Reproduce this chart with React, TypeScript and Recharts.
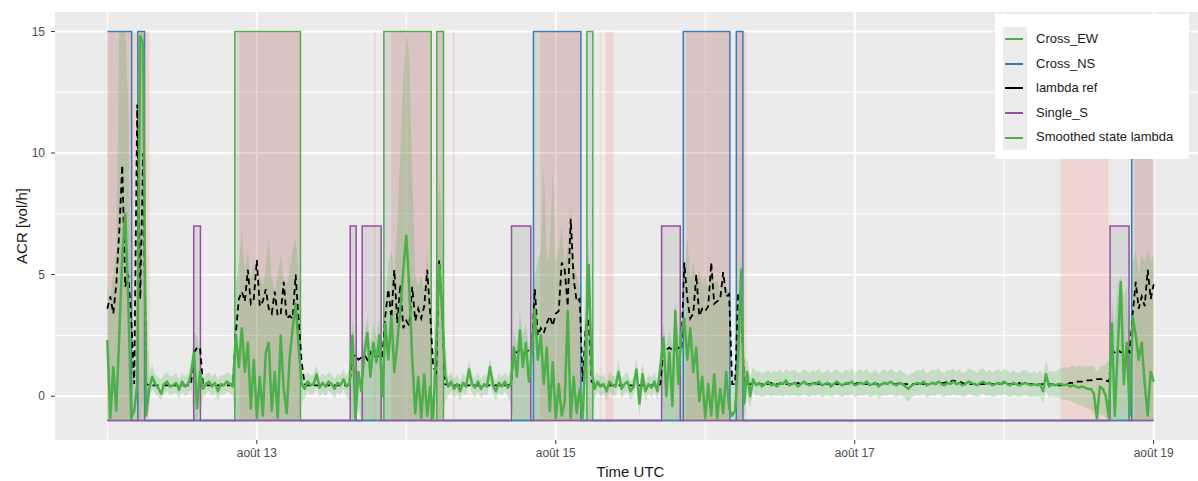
import React from 'react';
import { ComposedChart, Line, Area, XAxis, YAxis, CartesianGrid, Legend, Label } from 'recharts';

const FONT = '"Liberation Sans", Arial, Helvetica, sans-serif';

// time grid: day-of-month (août), sampled every 0.02 day from août 12 00:00
const T_START = 12;
const T_STEP = 0.02;

const smoothed = [
  2.3, -0.9, 1.2, -0.6, 2.5, 5.8, 7.5, 4.0, -0.9, -0.6,
  0.5, 14.8, 14.5, -0.8, 0.3, 0.8, 0.5, 0.35, 0.1, 0.5,
  0.6, 0.4, 0.45, 0.55, 0.25, 0.6, 0.4, 0.5, 0.9, 1.8,
  -0.5, 1.0, 0.3, 0.5, 0.6, 0.4, 0.55, 0.2, 0.5, 0.45,
  0.6, 0.5, 0.4, 2.5, 1.2, 2.8, 1.0, 2.2, -0.5, 1.5,
  -0.9, 0.8, -0.8, 1.8, 2.2, -0.6, 1.0, -0.9, 2.5, 0.3,
  -0.7, 1.6, 2.8, 3.8, 2.0, 0.5, 0.3, 0.6, 0.45, 0.5,
  0.9, 0.35, 0.55, 0.4, 0.6, 0.5, 0.3, 0.55, 0.45, 0.7,
  0.4, 0.5, 2.5, -0.9, 1.0, 0.2, 1.8, 2.6, 0.8, 2.2,
  1.4, 2.5, 0.0, 3.0, 1.5, 3.3, 1.0, 2.2, 3.6, 5.2,
  6.6, 4.5, 1.5, -0.7, 0.8, -0.9, 0.9, -0.8, 0.4, -0.9,
  2.0, 5.4, 3.5, 0.9, 0.4, 0.6, 0.3, 0.5, 0.2, 0.55,
  0.4, 1.1, 0.5, 0.35, 0.6, 0.3, 0.5, 0.4, 1.2, 0.45,
  0.2, 0.55, 0.4, 0.6, 0.35, 0.5, 2.0, 0.8, 2.7, 1.2,
  2.2, 0.6, 1.8, 3.6, 1.5, 2.5, 0.5, 2.0, -0.6, 1.4,
  -0.9, 0.5, -0.8, -0.2, 3.5, -0.9, 0.8, -0.7, 0.3, -0.9,
  2.0, 5.4, 1.0, 0.3, 0.6, 0.4, 0.5, 0.2, 0.6, 0.45,
  0.4, 1.0, 0.3, 0.5, 0.6, 0.2, 0.4, 1.1, -0.3, 0.9,
  0.2, 0.5, 0.35, 0.6, 0.2, 1.2, 2.4, 0.0, 1.8, -0.4,
  3.5, 0.5, 2.6, 3.2, 1.5, 2.8, 1.0, 2.0, -0.2, 0.8,
  -0.9, 0.5, -0.8, 0.9, -0.9, 0.3, -0.7, 1.0, -0.5, -0.8,
  -0.6, 1.5, 5.2, -0.3, 1.0, 0.0, 0.7, 0.45, 0.55, 0.4,
  0.5, 0.6, 0.45, 0.5, 0.4, 0.55, 0.5, 0.65, 0.45, 0.5,
  0.55, 0.4, 0.5, 0.6, 0.5, 0.45, 0.55, 0.5, 0.6, 0.45,
  0.5, 0.55, 0.4, 0.5, 0.6, 0.5, 0.45, 0.55, 0.5, 0.6,
  0.45, 0.5, 0.55, 0.5, 0.6, 0.45, 0.5, 0.55, 0.4, 0.5,
  0.55, 0.5, 0.6, 0.5, 0.45, 0.55, 0.5, 0.4, 0.3, 0.45,
  0.5, 0.55, 0.5, 0.6, 0.45, 0.5, 0.55, 0.5, 0.6, 0.5,
  0.45, 0.55, 0.5, 0.6, 0.5, 0.55, 0.45, 0.5, 0.6, 0.55,
  0.5, 0.45, 0.55, 0.6, 0.5, 0.55, 0.45, 0.5, 0.55, 0.5,
  0.6, 0.5, 0.45, 0.55, 0.5, 0.45, 0.5, 0.55, 0.5, 0.45,
  0.5, 0.45, 0.5, 0.2, 0.9, 0.4, 0.5, 0.45, 0.5, 0.5,
  0.45, 0.5, 0.4, 0.45, 0.4, 0.35, 0.4, 0.35, 0.3, 0.3,
  0.1, -0.9, 0.4, 0.3, 0.0, -0.9, 3.0, -0.8, 2.0, 4.7,
  0.5, 2.2, -0.8, 3.3, 2.5, 1.5, 2.2, 0.5, -0.8, 1.0,
  0.6,
];

const lambdaRef = [
  3.6, 4.1, 3.4, 4.6, 6.8, 9.5, 4.5, 5.0, 3.2, 0.5,
  12.0, 4.0, 10.0, 0.5, 0.45, 0.45, 0.45, 0.45, 0.45, 0.45,
  0.45, 0.45, 0.45, 0.45, 0.45, 0.45, 0.45, 0.45, 0.5, 1.8,
  2.0, 2.0, 0.5, 0.45, 0.45, 0.45, 0.45, 0.45, 0.45, 0.45,
  0.45, 0.45, 0.5, 2.6, 4.0, 4.3, 3.9, 5.2, 3.8, 4.0,
  5.6, 3.7, 3.9, 4.4, 3.6, 3.4, 4.3, 3.3, 3.4, 4.7,
  3.2, 3.3, 3.2, 5.0, 3.1, 1.4, 0.5, 0.45, 0.45, 0.45,
  0.45, 0.45, 0.45, 0.45, 0.45, 0.45, 0.45, 0.45, 0.45, 0.45,
  0.45, 0.5, 1.6, 1.7, 1.5, 1.6, 1.7, 1.5, 1.8, 1.6,
  1.7, 1.6, 1.6, 3.3, 4.4, 3.2, 5.2, 3.0, 4.6, 2.8,
  3.1, 2.9, 4.5, 3.1, 3.6, 3.2, 3.7, 5.2, 3.4, 1.2,
  1.0, 5.6, 3.5, 0.5, 0.45, 0.45, 0.45, 0.45, 0.45, 0.45,
  0.45, 0.45, 0.45, 0.45, 0.45, 0.45, 0.45, 0.45, 0.45, 0.45,
  0.45, 0.45, 0.45, 0.45, 0.45, 0.5, 1.8, 1.8, 1.9, 1.8,
  1.8, 1.9, 1.9, 4.4, 2.5, 2.8, 2.6, 3.0, 3.3, 2.9,
  3.4, 3.5, 5.5, 5.2, 3.7, 7.3, 4.8, 3.9, 4.0, 0.6,
  2.8, 3.2, 0.6, 0.5, 0.45, 0.45, 0.45, 0.45, 0.45, 0.45,
  0.45, 0.45, 0.45, 0.45, 0.45, 0.45, 0.45, 0.45, 0.45, 0.45,
  0.45, 0.45, 0.45, 0.45, 0.45, 0.5, 1.9, 1.9, 2.0, 1.9,
  1.9, 2.0, 1.9, 5.5, 4.0, 3.2, 3.4, 5.0, 3.3, 3.6,
  3.5, 3.7, 5.5, 3.8, 3.9, 4.0, 5.1, 4.1, 4.2, 0.5,
  0.5, 4.2, 4.0, 0.5, 0.5, 0.5, 0.5, 0.5, 0.5, 0.5,
  0.5, 0.5, 0.55, 0.5, 0.5, 0.5, 0.55, 0.5, 0.5, 0.5,
  0.5, 0.55, 0.5, 0.5, 0.5, 0.5, 0.5, 0.55, 0.5, 0.5,
  0.5, 0.5, 0.5, 0.55, 0.5, 0.5, 0.5, 0.5, 0.55, 0.5,
  0.5, 0.55, 0.5, 0.5, 0.5, 0.5, 0.55, 0.5, 0.5, 0.5,
  0.55, 0.5, 0.5, 0.5, 0.5, 0.55, 0.5, 0.5, 0.5, 0.5,
  0.5, 0.5, 0.55, 0.5, 0.5, 0.5, 0.55, 0.5, 0.5, 0.55,
  0.55, 0.6, 0.6, 0.65, 0.6, 0.6, 0.55, 0.5, 0.5, 0.5,
  0.5, 0.55, 0.5, 0.5, 0.5, 0.55, 0.5, 0.5, 0.5, 0.5,
  0.55, 0.5, 0.5, 0.5, 0.5, 0.55, 0.5, 0.5, 0.5, 0.5,
  0.5, 0.5, 0.5, 0.5, 0.5, 0.5, 0.5, 0.5, 0.45, 0.45,
  0.5, 0.5, 0.55, 0.55, 0.6, 0.6, 0.6, 0.65, 0.65, 0.65,
  0.7, 0.7, 0.7, 0.7, 0.65, 0.6, 1.8, 1.8, 1.9, 1.8,
  1.8, 1.9, 1.8, 3.4, 4.7, 3.6, 4.1, 3.7, 5.2, 4.0,
  4.6,
];

const ciLow = [
  -1, -1, -1, -1, -1, -1, -1, -1, -1, -1,
  -1, -1, 0, -1, -0.1, 0.3, 0.1, 0.0, -0.2, 0.1,
  0.2, 0.0, 0.1, 0.15, -0.1, 0.2, 0.0, 0.1, 0.3, -1,
  -1, -0.6, -0.1, 0.1, 0.2, 0.0, 0.15, -0.2, 0.1, 0.05,
  0.2, 0.1, 0.0, -1, -1, -1, -1, -1, -1, -1,
  -1, -1, -1, -1, -1, -1, -1, -1, -1, -1,
  -1, -1, -1, -1, -1, -0.2, -0.1, 0.2, 0.05, 0.1,
  0.4, -0.05, 0.15, 0.0, 0.2, 0.1, -0.1, 0.15, 0.05, 0.3,
  0.0, -0.2, -1, -1, -0.5, -1, -1, -1, -1, -1,
  -1, -1, -1, -1, -1, -1, -1, -1, -1, -1,
  -1, -1, -1, -1, -1, -1, -1, -1, -1, -1,
  -1, -1, -1, -0.2, 0.0, 0.2, -0.1, 0.1, -0.2, 0.15,
  0.0, 0.5, 0.1, -0.05, 0.2, -0.1, 0.1, 0.0, 0.6, 0.05,
  -0.2, 0.15, 0.0, 0.2, -0.05, -0.3, -1, -1, -1, -1,
  -1, -1, -1, -1, -1, -1, -1, -1, -1, -1,
  -1, -1, -1, -1, -1, -1, -1, -1, -1, -1,
  -1, -1, -1, -0.1, 0.2, 0.0, 0.1, -0.2, 0.2, 0.05,
  0.0, 0.4, -0.1, 0.1, 0.2, -0.2, 0.0, 0.5, -0.8, 0.3,
  -0.2, 0.1, -0.05, 0.2, -0.2, 0.4, -1, -1, -1, -1,
  -1, -1, -1, -1, -1, -1, -1, -1, -1, -1,
  -1, -1, -1, -1, -1, -1, -1, -1, -1, -1,
  -1, -1, -1, -0.8, 0.0, -0.5, 0.2, 0.0, 0.05, -0.05,
  0.0, 0.1, -0.05, 0.05, 0.0, 0.05, -0.05, 0.1, 0.0, 0.05,
  0.05, -0.05, 0.0, 0.1, 0.0, -0.05, 0.05, 0.0, 0.1, -0.05,
  0.0, 0.05, -0.05, 0.0, 0.1, 0.0, -0.05, 0.05, 0.0, 0.1,
  -0.05, 0.0, 0.05, 0.0, 0.1, -0.05, 0.0, 0.05, -0.1, 0.0,
  0.05, 0.0, 0.1, 0.0, -0.05, 0.05, 0.0, -0.1, -0.25, -0.05,
  0.0, 0.05, 0.0, 0.1, -0.05, 0.0, 0.05, 0.0, 0.1, 0.0,
  -0.05, 0.05, 0.0, 0.1, 0.0, 0.05, -0.05, 0.0, 0.1, 0.05,
  0.0, -0.05, 0.05, 0.1, 0.0, 0.05, -0.05, 0.0, 0.05, 0.0,
  0.1, 0.0, -0.05, 0.05, 0.0, -0.05, 0.0, 0.05, 0.0, -0.05,
  0.0, -0.05, 0.0, -0.3, 0.2, -0.1, 0.0, -0.05, -0.05, -0.1,
  -0.15, -0.15, -0.2, -0.25, -0.3, -0.35, -0.4, -0.45, -0.5, -0.55,
  -0.7, -1, -0.75, -0.8, -0.9, -1, -1, -1, -1, -1,
  -1, -1, -1, -1, -1, -1, -1, -1, -1, -1,
  -1,
];

const ciHigh = [
  4.5, 4.0, 5.0, 6.0, 15, 15, 15, 12, 2.0, 0.6,
  6, 15, 15, 4, 1.0, 1.3, 0.9, 0.8, 0.7, 0.9,
  1.0, 0.8, 0.85, 0.95, 0.7, 1.0, 0.8, 0.9, 1.4, 2.6,
  2.5, 1.8, 0.8, 0.9, 1.0, 0.8, 0.95, 0.7, 0.9, 0.85,
  1.0, 0.9, 0.8, 4.5, 5.5, 6.8, 5.0, 6.0, 4.8, 5.5,
  4.6, 5.0, 4.5, 5.2, 6.5, 4.8, 4.3, 5.0, 5.8, 4.8,
  4.6, 5.2, 6.0, 6.5, 5.0, 1.2, 0.7, 1.0, 0.85, 0.9,
  1.3, 0.75, 0.95, 0.8, 1.0, 0.9, 0.7, 0.95, 0.85, 1.1,
  0.8, 1.2, 3.2, 2.0, 1.6, 1.5, 2.5, 3.3, 2.0, 3.0,
  2.4, 3.2, 2.0, 4.0, 5.5, 6.0, 5.0, 7.0, 10, 13,
  15, 14, 9, 5.0, 4.5, 5.0, 4.2, 6.0, 4.0, 1.0,
  6, 9, 7, 2.0, 0.8, 1.0, 0.7, 0.9, 0.6, 0.95,
  0.8, 1.5, 0.9, 0.75, 1.0, 0.7, 0.9, 0.8, 1.6, 0.85,
  0.6, 0.95, 0.8, 1.0, 0.75, 1.2, 2.8, 2.0, 3.5, 2.5,
  3.0, 2.0, 2.6, 5.0, 5.5, 6.0, 9.5, 5.5, 6.0, 9.4,
  5.5, 6.0, 7.0, 5.5, 6.0, 8.0, 5.5, 5.0, 4.5, 1.0,
  5.0, 6.5, 3.0, 0.8, 1.0, 0.8, 0.9, 0.6, 1.0, 0.85,
  0.8, 1.5, 0.7, 0.9, 1.0, 0.6, 0.8, 1.6, 0.3, 1.4,
  0.6, 0.9, 0.75, 1.0, 0.6, 1.8, 3.0, 2.0, 2.8, 2.0,
  4.0, 2.5, 3.2, 5.0, 6.5, 4.8, 5.5, 4.5, 5.2, 4.6,
  5.0, 4.2, 5.5, 4.6, 4.8, 4.3, 5.2, 4.5, 4.2, 1.0,
  1.0, 4.0, 6.0, 1.2, 1.6, 0.8, 1.2, 1.0, 1.05, 0.95,
  1.0, 1.1, 0.95, 1.05, 1.0, 1.1, 0.95, 1.15, 1.0, 1.05,
  1.1, 0.95, 1.0, 1.1, 1.05, 0.95, 1.1, 1.0, 1.15, 0.95,
  1.0, 1.1, 0.95, 1.05, 1.1, 1.0, 0.95, 1.1, 1.0, 1.15,
  0.95, 1.05, 1.1, 1.0, 1.15, 0.95, 1.0, 1.1, 0.9, 1.05,
  1.1, 1.0, 1.15, 1.05, 0.95, 1.1, 1.0, 0.9, 0.85, 0.95,
  1.0, 1.1, 1.05, 1.15, 0.95, 1.0, 1.1, 1.05, 1.15, 1.0,
  0.95, 1.1, 1.05, 1.15, 1.0, 1.1, 0.95, 1.0, 1.15, 1.1,
  1.05, 0.95, 1.1, 1.15, 1.0, 1.1, 0.95, 1.05, 1.1, 1.0,
  1.15, 1.05, 0.95, 1.1, 1.0, 0.95, 1.05, 1.1, 1.0, 0.95,
  1.05, 0.95, 1.05, 0.9, 1.5, 1.0, 1.05, 1.0, 1.1, 1.15,
  1.2, 1.15, 1.2, 1.25, 1.2, 1.25, 1.2, 1.25, 1.2, 1.25,
  1.2, 1.0, 1.2, 1.25, 1.3, 1.5, 4.0, 3.0, 4.5, 5.0,
  4.0, 4.5, 2.0, 5.5, 6.0, 5.0, 5.8, 5.5, 6.0, 5.5,
  5.8,
];

// state periods [start, end] in days (août)
const crossEW = [[12.853, 13.292], [13.85, 14.167], [14.204, 14.249], [15.208, 15.248]];
const crossNS = [[12.0, 12.163], [12.204, 12.249], [14.851, 15.168], [15.853, 16.165], [16.208, 16.252], [18.853, 19.0]];
const singleS = [[12.578, 12.623], [13.625, 13.665], [13.705, 13.832], [14.704, 14.833], [15.708, 15.833], [18.708, 18.835]];
const pinkBands = [
  [12.0, 12.282], [12.884, 13.29], [13.785, 13.795], [13.899, 14.165], [14.204, 14.249],
  [14.31, 14.322], [14.896, 15.166], [15.295, 15.305], [15.333, 15.387], [15.873, 16.165],
  [16.208, 16.275], [18.378, 18.699], [18.873, 19.0],
];
const STATE_OFF = -1;
const EW_ON = 15;
const NS_ON = 15;
const S_ON = 7;

const xTicks = [13, 15, 17, 19];
const xTickLabels = ['août 13', 'août 15', 'août 17', 'août 19'];
const xMinor = [12, 14, 16, 18];
const yTicks = [0, 5, 10, 15];
const yMinor = [2.5, 7.5, 12.5];

const legendNames = ['Cross_EW', 'Cross_NS', 'lambda ref', 'Single_S', 'Smoothed state lambda'];
const legendColors = ['#4daf4a', '#377eb8', '#000000', '#984ea3', '#4daf4a'];

const T_END = T_START + (smoothed.length - 1) * T_STEP;

const series = smoothed.map((v, i) => ({
  t: T_START + i * T_STEP,
  smooth: v,
  ref: lambdaRef[i],
  ci: [ciLow[i], ciHigh[i]],
}));

function stepLine(intervals: number[][], on: number) {
  const pts: { t: number; v: number }[] = [];
  if (intervals[0][0] > T_START + 1e-9) pts.push({ t: T_START, v: STATE_OFF });
  intervals.forEach(([s, e]) => {
    if (s > T_START + 1e-9) pts.push({ t: s, v: STATE_OFF });
    pts.push({ t: s, v: on });
    pts.push({ t: e, v: on });
    if (e < T_END - 1e-9) pts.push({ t: e, v: STATE_OFF });
  });
  const last = intervals[intervals.length - 1][1];
  if (last < T_END - 1e-9) pts.push({ t: T_END, v: STATE_OFF });
  return pts;
}

function band(s: number, e: number, top: number) {
  return [
    { t: s, r: [STATE_OFF, top] },
    { t: e, r: [STATE_OFF, top] },
  ];
}

const ewLine = stepLine(crossEW, EW_ON);
const nsLine = stepLine(crossNS, NS_ON);
const sLine = stepLine(singleS, S_ON);

const renderLegend = () => (
  <div
    style={{
      position: 'relative',
      width: 194,
      height: 145,
      background: '#ffffff',
      fontFamily: FONT,
      fontSize: 13,
      color: '#1a1a1a',
    }}
  >
    <div style={{ position: 'absolute', left: 8, top: 13, width: 24, height: 123, background: '#ececec' }} />
    {legendNames.map((name, i) => (
      <div key={name} style={{ position: 'absolute', left: 0, top: 13 + i * 24.6, height: 24.6, width: 194 }}>
        <div style={{ position: 'absolute', left: 10, top: 11.3, width: 18, height: 2, background: legendColors[i] }} />
        <span style={{ position: 'absolute', left: 41, top: 0, lineHeight: '24.6px', whiteSpace: 'nowrap' }}>{name}</span>
      </div>
    ))}
  </div>
);

export default function App() {
  const tickStyle = { fill: '#4d4d4d', fontSize: 12, fontFamily: FONT };
  return (
    <div style={{ position: 'fixed', left: 0, top: 0, width: 1198, height: 481, overflow: 'hidden', background: '#ffffff' }}>
      <ComposedChart width={1210} height={481} margin={{ top: 12, right: 4, bottom: 0, left: 0 }}>
        <CartesianGrid fill="#ebebeb" stroke="#ffffff" strokeWidth={1} horizontalValues={yMinor} verticalValues={xMinor} />
        <CartesianGrid stroke="#ffffff" strokeWidth={2} horizontalValues={yTicks} verticalValues={xTicks} />
        <XAxis
          type="number"
          dataKey="t"
          domain={[11.65, 19.35]}
          ticks={xTicks}
          allowDataOverflow
          tickFormatter={(v: number) => xTickLabels[xTicks.indexOf(v)] ?? ''}
          axisLine={false}
          tickLine={{ stroke: '#333333' }}
          tickSize={4}
          tickMargin={4}
          tick={tickStyle}
          height={41}
        >
          <Label
            content={(props: any) => {
              const vb = props.viewBox || { x: 55, y: 440, width: 1151, height: 41 };
              return (
                <text
                  x={vb.x + vb.width / 2}
                  y={vb.y + vb.height - 4.5}
                  textAnchor="middle"
                  fontSize={15}
                  fontFamily={FONT}
                  fill="#1a1a1a"
                >
                  Time UTC
                </text>
              );
            }}
          />
        </XAxis>
        <YAxis
          type="number"
          domain={[-1.8, 15.8]}
          ticks={yTicks}
          allowDataOverflow
          axisLine={false}
          tickLine={{ stroke: '#333333' }}
          tickSize={4}
          tickMargin={6}
          tick={tickStyle}
          width={55}
        >
          <Label
            content={(props: any) => {
              const vb = props.viewBox || { x: 0, y: 12, width: 55, height: 428 };
              const cx = 27;
              const cy = vb.y + vb.height / 2;
              return (
                <text
                  x={cx}
                  y={cy}
                  transform={`rotate(-90 ${cx} ${cy})`}
                  textAnchor="middle"
                  fontSize={15}
                  fontFamily={FONT}
                  fill="#1a1a1a"
                >
                  ACR [vol/h]
                </text>
              );
            }}
          />
        </YAxis>

        {pinkBands.map(([s, e], i) => (
          <Area
            key={`pink-${i}`}
            data={band(s, e, EW_ON)}
            dataKey="r"
            type="linear"
            stroke="none"
            fill="#f8766d"
            fillOpacity={0.2}
            dot={false}
            activeDot={false}
            isAnimationActive={false}
            legendType="none"
          />
        ))}
        {crossEW.map(([s, e], i) => (
          <Area key={`ewf-${i}`} data={band(s, e, EW_ON)} dataKey="r" type="linear" stroke="none" fill="#808080" fillOpacity={0.18} dot={false} activeDot={false} isAnimationActive={false} legendType="none" />
        ))}
        {crossNS.map(([s, e], i) => (
          <Area key={`nsf-${i}`} data={band(s, e, NS_ON)} dataKey="r" type="linear" stroke="none" fill="#808080" fillOpacity={0.18} dot={false} activeDot={false} isAnimationActive={false} legendType="none" />
        ))}
        {singleS.map(([s, e], i) => (
          <Area key={`sf-${i}`} data={band(s, e, S_ON)} dataKey="r" type="linear" stroke="none" fill="#808080" fillOpacity={0.18} dot={false} activeDot={false} isAnimationActive={false} legendType="none" />
        ))}

        <Line data={ewLine} dataKey="v" name="Cross_EW" type="linear" stroke="#4daf4a" strokeWidth={1.5} dot={false} activeDot={false} isAnimationActive={false} />
        <Line data={nsLine} dataKey="v" name="Cross_NS" type="linear" stroke="#377eb8" strokeWidth={1.5} dot={false} activeDot={false} isAnimationActive={false} />
        <Line data={sLine} dataKey="v" name="Single_S" type="linear" stroke="#984ea3" strokeWidth={1.5} dot={false} activeDot={false} isAnimationActive={false} />
        <Line
          data={series}
          dataKey="ref"
          name="lambda ref"
          type="linear"
          stroke="#000000"
          strokeWidth={1.8}
          strokeDasharray="6 4"
          dot={false}
          activeDot={false}
          isAnimationActive={false}
        />

        <Area
          data={series}
          dataKey="ci"
          type="linear"
          stroke="none"
          fill="#4daf4a"
          fillOpacity={0.24}
          dot={false}
          activeDot={false}
          isAnimationActive={false}
          legendType="none"
        />

        <Line
          data={series}
          dataKey="smooth"
          name="Smoothed state lambda"
          type="linear"
          stroke="#4daf4a"
          strokeWidth={2.5}
          strokeLinejoin="round"
          dot={false}
          activeDot={false}
          isAnimationActive={false}
        />

        <Legend
          content={renderLegend}
          layout="vertical"
          align="center"
          verticalAlign="middle"
          wrapperStyle={{ left: 995, top: 14, width: 194, height: 145 }}
        />
      </ComposedChart>
    </div>
  );
}
